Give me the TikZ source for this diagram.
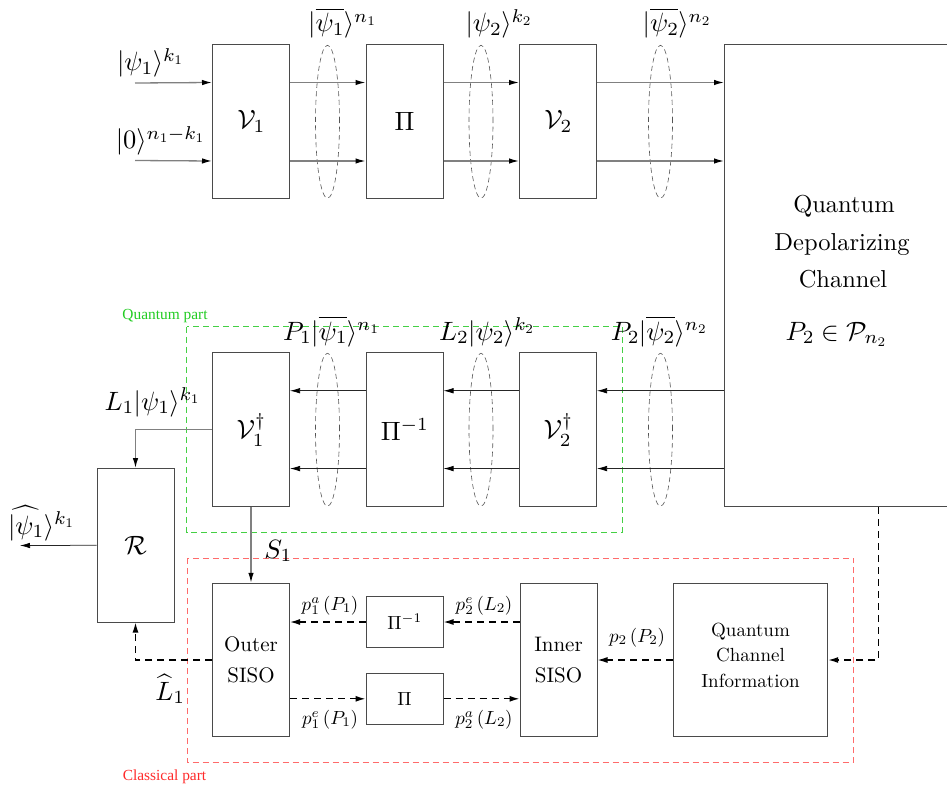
\documentclass[tikz,border=0pt]{standalone}
\usepackage{amsmath}
\usepackage{fontspec}
\setmainfont{lmroman10-regular.otf}
\newfontfamily\timesfam{Liberation Serif}
\DeclareFontShape{OML}{cmm}{m}{it}{<-11>cmmi5<11-18.8>cmmi7<18.8->cmmi10}{}
\DeclareFontShape{OMS}{cmsy}{m}{n}{<-11>cmsy5<11-18.8>cmsy7<18.8->cmsy10}{}
\DeclareFontShape{OT1}{cmr}{m}{n}{<-11>cmr5<11-18.8>cmr7<18.8->cmr10}{}
\DeclareFontShape{OMX}{cmex}{m}{n}{<->cmex10}{}
\usetikzlibrary{arrows.meta,calc}
\definecolor{boxc}{HTML}{4A4A4A}
\definecolor{lnc}{HTML}{808080}
\definecolor{darkln}{HTML}{262626}
\definecolor{ellc}{HTML}{555555}
\definecolor{qgreen}{HTML}{22CC22}
\definecolor{qgreenln}{HTML}{44D044}
\definecolor{cred}{HTML}{FF2A2A}
\definecolor{credln}{HTML}{FF6B6B}
\newcommand\mfnt{\fontsize{26.5}{31}\selectfont}
\newcommand\chfnt{\fontsize{24.5}{37.5}\selectfont}
\newcommand\sisofnt{\fontsize{21}{31}\selectfont}
\newcommand\qcifnt{\fontsize{19}{25.5}\selectfont}
\newcommand\smfnt{\fontsize{19}{23}\selectfont}
\newcommand\partfnt{\timesfam\fontsize{15.4}{18}\selectfont}
\begin{document}
\begin{tikzpicture}[x=1pt,y=-1pt,
  box/.style={draw=boxc, line width=1pt, minimum width=77pt, minimum height=153.5pt, inner sep=0pt, font=\mfnt},
  sbox/.style={draw=boxc, line width=1pt, minimum width=77pt, minimum height=51pt, inner sep=0pt, font=\smfnt},
  arrowtip/.style={-{Latex[length=10pt,width=5.5pt,color=black]}},
  tarr/.style={draw=lnc, line width=1.3pt, arrowtip},
  marr/.style={draw=darkln, line width=0.75pt, arrowtip},
  carr/.style={draw=black, line width=1.3pt, dash pattern=on 7pt off 5pt, -{Latex[length=10pt,width=6pt]}},
  ell/.style={draw=ellc, line width=0.6pt, dash pattern=on 5pt off 3.5pt},
  lbl/.style={font=\mfnt, inner sep=0pt, anchor=base},
  slbl/.style={font=\smfnt, inner sep=0pt, anchor=base},
  ctxt/.style={font=\chfnt, inner sep=0pt, anchor=base},
  part/.style={font=\partfnt, inner sep=0pt}
]
\useasboundingbox (0,0) rectangle (947,789);

% top row
\node[box] (V1) at (251,121.75) {$\mathcal{V}_1$};
\node[box] (P) at (404.5,121.75) {$\Pi$};
\node[box] (V2) at (558,121.75) {$\mathcal{V}_2$};
\node[draw=boxc, line width=1pt, minimum width=230pt, minimum height=461.5pt, inner sep=0pt] (Ch) at (839.5,275.75) {};
\node[ctxt] (Ch1) at (844,212) {Quantum};
\node[ctxt] (Ch2) at (842,250) {Depolarizing};
\node[ctxt] (Ch3) at (843,287) {Channel};
\node[lbl] (Chm) at (836,340) {$P_2\in\mathcal{P}_{n_2}$};

% middle row
\node[box] (V1d) at (251,429.7) {$\mathcal{V}_1^\dagger$};
\node[box] (Pd) at (404.5,429.7) {$\Pi^{-1}$};
\node[box] (V2d) at (558,429.7) {$\mathcal{V}_2^\dagger$};
\node[box] (R) at (135.5,545.3) {$\mathcal{R}$};

% bottom row
\node[box, font=\sisofnt, align=center] (OS) at (251,660) {Outer\\SISO};
\node[sbox] (Pis) at (404.5,622) {$\Pi^{-1}$};
\node[sbox] (Ps) at (404.5,698.8) {$\Pi$};
\node[box, font=\sisofnt, align=center] (IS) at (558.5,660) {Inner\\SISO};
\node[box, minimum width=154.4pt] (QCI) at (750.5,660) {};
\node[font=\qcifnt, align=center, inner sep=0pt] (QCIt) at (750.5,655) {Quantum\\Channel\\Information};

% dashed groups
\draw[qgreenln, line width=0.7pt, dash pattern=on 6pt off 4pt] (186.7,326.7) rectangle (622.3,532);
\draw[credln, line width=0.7pt, dash pattern=on 6pt off 4pt] (187.3,558) rectangle (853.3,762.7);
\node[part, text=qgreen] (qp) at (165,315.7) {Quantum part};
\node[part, text=cred] (cp) at (164.5,777) {Classical part};

% ellipses
\foreach \ex in {327.5,481,660.5} {
  \draw[ell] (\ex,121.75) ellipse [x radius=12pt, y radius=76.5pt];
  \draw[ell] (\ex,429.7) ellipse [x radius=12pt, y radius=76.5pt];
}

% top arrows
\coordinate (t1) at ([yshift=-38pt]V1.north east);
\coordinate (t2) at ([yshift=38pt]V1.south east);
\coordinate (in1) at (135,83);
\coordinate (in2) at (135,160.5);
\draw[tarr] (in1) -- (V1.west |- t1);
\draw[tarr] (in2) -- (V1.west |- t2);
\draw[tarr] (t1) -- (P.west |- t1);
\draw[tarr] (t2) -- (P.west |- t2);
\draw[tarr] (P.east |- t1) -- (V2.west |- t1);
\draw[tarr] (P.east |- t2) -- (V2.west |- t2);
\draw[tarr] (V2.east |- t1) -- (Ch.west |- t1);
\draw[tarr] (V2.east |- t2) -- (Ch.west |- t2);

% middle arrows
\coordinate (m1) at ([yshift=-38.3pt]V2d.north east);
\coordinate (m2) at ([yshift=38.4pt]V2d.south east);
\draw[marr] (Ch.west |- m1) -- (V2d.east |- m1);
\draw[marr] (Ch.west |- m2) -- (V2d.east |- m2);
\draw[marr] (V2d.west |- m1) -- (Pd.east |- m1);
\draw[marr] (V2d.west |- m2) -- (Pd.east |- m2);
\draw[marr] (Pd.west |- m1) -- (V1d.east |- m1);
\draw[marr] (Pd.west |- m2) -- (V1d.east |- m2);

% to and from R
\coordinate (outp) at (20,545.5);
\draw[tarr] (V1d.west) -| (R.north);
\draw[marr] (R.west) -- (outp);
\draw[tarr] (V1d.south) -- (OS.north);

% classical dashed arrows
\draw[carr] (IS.west |- Pis.east) -- (Pis.east);
\draw[carr] (Pis.west) -- (OS.east |- Pis.west);
\draw[carr] (OS.east |- Ps.west) -- (Ps.west);
\draw[carr] (Ps.east) -- (IS.west |- Ps.east);
\draw[carr] (QCI.west) -- (IS.east);
\draw[carr] ([xshift=38.8pt]Ch.south) |- (QCI.east);
\draw[carr] (OS.west) -| (R.south);

% labels
\node[lbl] (l1) at (150,71) {$|\psi_1\rangle^{k_1}$};
\node[lbl] (l2) at (160,149) {$|0\rangle^{n_1-k_1}$};
\node[lbl] (l3) at (342,32) {$|\overline{\psi_1}\rangle^{n_1}$};
\node[lbl] (l4) at (498.5,32) {$|\psi_2\rangle^{k_2}$};
\node[lbl] (l5) at (676.5,32) {$|\overline{\psi_2}\rangle^{n_2}$};
\node[lbl] (l6) at (331,340) {$P_1|\overline{\psi_1}\rangle^{n_1}$};
\node[lbl] (l7) at (486.5,340) {$L_2|\psi_2\rangle^{k_2}$};
\node[lbl] (l8) at (658.7,340) {$P_2|\overline{\psi_2}\rangle^{n_2}$};
\node[lbl] (l9) at (152,410) {$L_1|\psi_1\rangle^{k_1}$};
\node[lbl] (l10) at (41,534) {$\widehat{|\psi_1}\rangle^{k_1}$};
\node[lbl] (l11) at (278,558) {$S_1$};
\node[lbl] (l12) at (170,700) {$\widehat{L}_1$};
\node[slbl] (a1) at (330,610) {$p_1^a\,(P_1)$};
\node[slbl] (a2) at (484,610) {$p_2^e\,(L_2)$};
\node[slbl] (a3) at (330,724) {$p_1^e\,(P_1)$};
\node[slbl] (a4) at (484,724) {$p_2^a\,(L_2)$};
\node[slbl] (a5) at (637,642) {$p_2\,(P_2)$};
\end{tikzpicture}
\end{document}
